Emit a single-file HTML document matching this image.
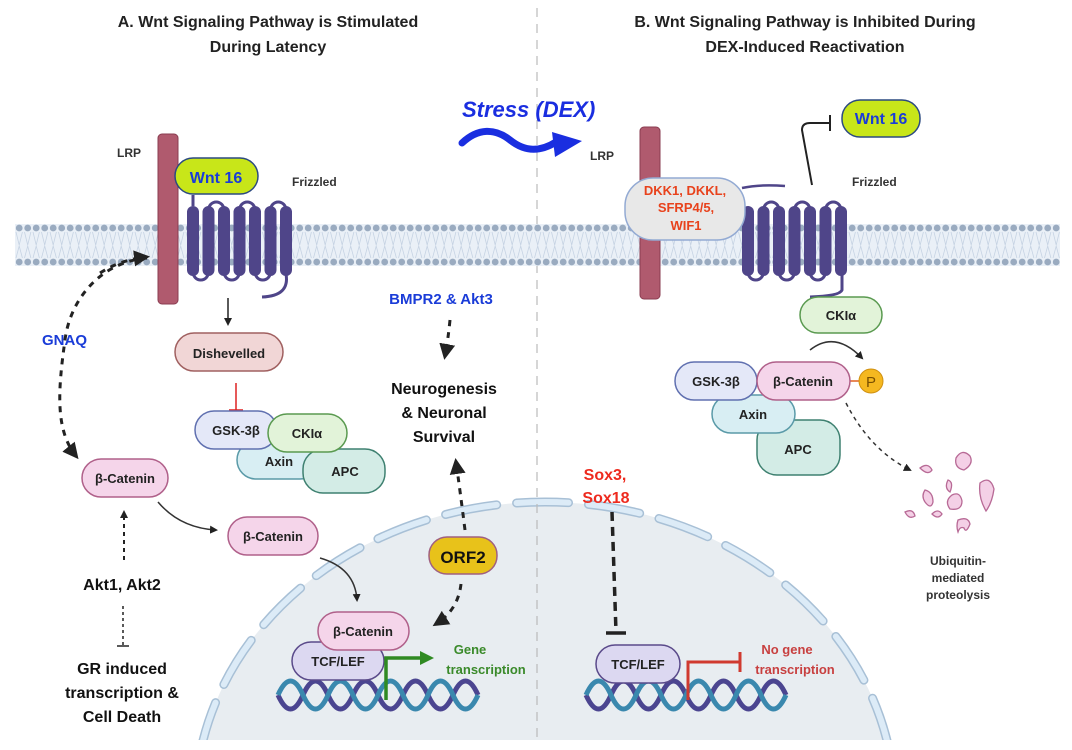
<!DOCTYPE html>
<html><head><meta charset="utf-8"><style>
html,body{margin:0;padding:0;background:#fff;width:1072px;height:750px;overflow:hidden;}
svg{display:block;font-family:"Liberation Sans",sans-serif;}
.b{font-weight:bold;}
</style></head><body>
<svg width="1072" height="750" viewBox="0 0 1072 750" xmlns="http://www.w3.org/2000/svg">
<defs>
<clipPath id="clip"><rect x="0" y="0" width="1072" height="740"/></clipPath>
<pattern id="mem" x="15" y="0" width="8.5" height="750" patternUnits="userSpaceOnUse">
<path d="M1 232 L4.2 245 L7.4 232 M1 258 L4.2 246 L7.4 258" stroke="#c6d3e3" stroke-width="0.8" fill="none"/>
<circle cx="4.2" cy="228" r="3.4" fill="#9aabc0"/>
<circle cx="4.2" cy="262" r="3.4" fill="#9aabc0"/>
</pattern>
<marker id="ah" markerWidth="8" markerHeight="8" refX="6" refY="4" orient="auto" markerUnits="userSpaceOnUse"><path d="M0,0 L8,4 L0,8 z" fill="#222"/></marker>
<marker id="ahb" markerWidth="16" markerHeight="16" refX="12" refY="8" orient="auto" markerUnits="userSpaceOnUse"><path d="M0,0 L16,8 L0,16 z" fill="#222"/></marker>
<marker id="ahg" markerWidth="14" markerHeight="14" refX="4" refY="7" orient="auto" markerUnits="userSpaceOnUse"><path d="M0,0 L14,7 L0,14 z" fill="#2f8a22"/></marker>
<g id="fz">
<g fill="#4f4589">
<rect x="0" y="0" width="12" height="70" rx="6"/><rect x="15.5" y="0" width="12" height="70" rx="6"/><rect x="31" y="0" width="12" height="70" rx="6"/><rect x="46.5" y="0" width="12" height="70" rx="6"/><rect x="62" y="0" width="12" height="70" rx="6"/><rect x="77.5" y="0" width="12" height="70" rx="6"/><rect x="93" y="0" width="12" height="70" rx="6"/>
</g>
<g fill="none" stroke="#4f4589" stroke-width="3">
<path d="M21.5 4 a7.75 8 0 0 1 15.5 0 M52.5 4 a7.75 8 0 0 1 15.5 0 M83.5 4 a7.75 8 0 0 1 15.5 0"/>
<path d="M6 66 a7.75 8 0 0 0 15.5 0 M37 66 a7.75 8 0 0 0 15.5 0 M68 66 a7.75 8 0 0 0 15.5 0"/>
</g>
</g>
<g id="dna" fill="none" stroke-width="5">
<path d="M0 15 q12.5 28 25 0 t25 0 t25 0 t25 0 t25 0 t25 0 t25 0 t25 0" stroke="#4b4590"/>
<path d="M0 15 q12.5 -28 25 0 t25 0 t25 0 t25 0 t25 0 t25 0 t25 0 t25 0" stroke="#3a88ae"/>
</g>
</defs>

<g clip-path="url(#clip)">
<ellipse cx="545" cy="805" rx="350" ry="303" fill="#e8edf1"/>
<ellipse cx="545" cy="805" rx="350" ry="303" fill="none" stroke="#a8c0d6" stroke-width="9" stroke-dasharray="52 20" stroke-linecap="round"/>
<ellipse cx="545" cy="805" rx="350" ry="303" fill="none" stroke="#dcebf7" stroke-width="6" stroke-dasharray="52 20" stroke-linecap="round"/>
</g>

<line x1="537" y1="8" x2="537" y2="740" stroke="#bbb" stroke-width="1.2" stroke-dasharray="9 7"/>

<g class="b" font-size="16" fill="#222" text-anchor="middle">
<text x="268" y="27">A.  Wnt Signaling Pathway is Stimulated</text>
<text x="268" y="52">During Latency</text>
<text x="805" y="27">B.  Wnt Signaling Pathway is Inhibited During</text>
<text x="805" y="52">DEX-Induced Reactivation</text>
</g>

<rect x="15" y="224" width="1045" height="42" fill="#eaf0f7"/>
<rect x="15" y="222" width="1045" height="46" fill="url(#mem)"/>

<!-- LEFT -->
<rect x="158" y="134" width="20" height="170" rx="4" fill="#b05a6e" stroke="#8a3c50" stroke-width="1"/>
<text x="117" y="157" class="b" font-size="12" fill="#333">LRP</text>
<use href="#fz" x="187" y="206"/>
<path d="M193 206 L193 195" stroke="#4f4589" stroke-width="3" fill="none"/>
<path d="M286 274 Q290 296 262 297" stroke="#4f4589" stroke-width="3" fill="none"/>
<rect x="175" y="158" width="83" height="36" rx="18" fill="#c8e619" stroke="#2c4a80" stroke-width="1.5"/>
<text x="216" y="183" text-anchor="middle" class="b" font-size="16" fill="#1a3cd8">Wnt 16</text>
<text x="292" y="186" class="b" font-size="12" fill="#333">Frizzled</text>

<line x1="228" y1="298" x2="228" y2="324" stroke="#222" stroke-width="1.5" marker-end="url(#ah)"/>
<rect x="175" y="333" width="108" height="38" rx="19" fill="#f1d6d6" stroke="#a06060" stroke-width="1.5"/>
<text x="229" y="358" text-anchor="middle" class="b" font-size="13" fill="#222">Dishevelled</text>
<path d="M236 383 V410 M229 410 H243" stroke="#d22" stroke-width="1.5" fill="none"/>

<rect x="237" y="441" width="82" height="38" rx="19" fill="#d8eef3" stroke="#5a9aa8" stroke-width="1.5"/>
<rect x="303" y="449" width="82" height="44" rx="20" fill="#d3ece6" stroke="#3e8070" stroke-width="1.5"/>
<rect x="195" y="411" width="82" height="38" rx="19" fill="#e4e8f8" stroke="#6070b0" stroke-width="1.5"/>
<rect x="268" y="414" width="79" height="38" rx="19" fill="#e2f3d9" stroke="#5a9a50" stroke-width="1.5"/>
<g class="b" font-size="13" fill="#222" text-anchor="middle">
<text x="236" y="435">GSK-3β</text>
<text x="307" y="438">CKIα</text>
<text x="279" y="466">Axin</text>
<text x="345" y="476">APC</text>
</g>

<text x="42" y="345" class="b" font-size="15" fill="#1a3cd8">GNAQ</text>
<path d="M147 258 C100 262 70 300 65 340 C58 390 55 430 76 456" stroke="#222" stroke-width="3" fill="none" stroke-dasharray="6 6" marker-end="url(#ahb)"/>
<path d="M100 273 Q120 260 146 257" stroke="#222" stroke-width="3" fill="none" stroke-dasharray="6 6" marker-end="url(#ahb)"/>

<rect x="82" y="459" width="86" height="38" rx="19" fill="#f5d5ea" stroke="#b0608a" stroke-width="1.5"/>
<text x="125" y="483" text-anchor="middle" class="b" font-size="13" fill="#222">β-Catenin</text>
<path d="M158 502 Q180 528 216 530" stroke="#333" stroke-width="1.5" fill="none" marker-end="url(#ah)"/>
<rect x="228" y="517" width="90" height="38" rx="19" fill="#f5d5ea" stroke="#b0608a" stroke-width="1.5"/>
<text x="273" y="541" text-anchor="middle" class="b" font-size="13" fill="#222">β-Catenin</text>

<path d="M124 560 V512" stroke="#222" stroke-width="2" stroke-dasharray="4 4" fill="none" marker-end="url(#ah)"/>
<text x="122" y="590" text-anchor="middle" class="b" font-size="16" fill="#111">Akt1, Akt2</text>
<path d="M123 606 V645" stroke="#222" stroke-width="1.5" stroke-dasharray="3 3" fill="none"/>
<path d="M117 646 H129" stroke="#222" stroke-width="1.5"/>
<g class="b" font-size="16" fill="#111" text-anchor="middle">
<text x="122" y="674">GR induced</text>
<text x="122" y="698">transcription &amp;</text>
<text x="122" y="722">Cell Death</text>
</g>

<text x="441" y="304" text-anchor="middle" class="b" font-size="15" fill="#1a3cd8">BMPR2 &amp; Akt3</text>
<path d="M450 320 Q448 340 445 356" stroke="#222" stroke-width="3" stroke-dasharray="6 6" fill="none" marker-end="url(#ahb)"/>
<g class="b" font-size="16" fill="#111" text-anchor="middle">
<text x="444" y="394">Neurogenesis</text>
<text x="444" y="418">&amp; Neuronal</text>
<text x="444" y="442">Survival</text>
</g>
<path d="M465 530 Q460 490 456 462" stroke="#222" stroke-width="3" stroke-dasharray="6 6" fill="none" marker-end="url(#ahb)"/>
<rect x="429" y="537" width="68" height="37" rx="18" fill="#e8c21a" stroke="#a06080" stroke-width="1.5"/>
<text x="463" y="563" text-anchor="middle" class="b" font-size="17" fill="#111">ORF2</text>
<path d="M461 584 Q458 610 436 624" stroke="#222" stroke-width="3" stroke-dasharray="6 6" fill="none" marker-end="url(#ahb)"/>

<path d="M320 558 Q355 568 357 600" stroke="#333" stroke-width="1.5" fill="none" marker-end="url(#ah)"/>
<use href="#dna" x="278" y="680"/>
<rect x="292" y="642" width="92" height="38" rx="19" fill="#dcd8f1" stroke="#5a4a8a" stroke-width="1.5"/>
<rect x="318" y="612" width="91" height="38" rx="19" fill="#f5d5ea" stroke="#b0608a" stroke-width="1.5"/>
<text x="363" y="636" text-anchor="middle" class="b" font-size="13" fill="#222">β-Catenin</text>
<text x="338" y="666" text-anchor="middle" class="b" font-size="13" fill="#222">TCF/LEF</text>
<path d="M386 700 V658 H424" stroke="#2f8a22" stroke-width="3.5" fill="none" marker-end="url(#ahg)"/>
<g class="b" font-size="13" fill="#3a8a2a" text-anchor="middle">
<text x="470" y="654">Gene</text>
<text x="486" y="674">transcription</text>
</g>

<!-- RIGHT -->
<text x="462" y="117" font-size="22" font-weight="bold" font-style="italic" fill="#1a2ee0">Stress (DEX)</text>
<path d="M462 143 C478 128 495 128 510 140 C525 152 540 152 556 142" stroke="#1a2ee0" stroke-width="7" fill="none" stroke-linecap="round"/>
<path d="M552 132 L582 141 L555 157 z" fill="#1a2ee0"/>
<text x="590" y="160" class="b" font-size="12" fill="#333">LRP</text>
<rect x="640" y="127" width="20" height="172" rx="4" fill="#b05a6e" stroke="#8a3c50" stroke-width="1"/>
<use href="#fz" x="742" y="206"/>
<path d="M742 188 Q760 184 785 186" stroke="#4f4589" stroke-width="2.5" fill="none"/>
<path d="M842 274 L842 290 Q840 296 810 297" stroke="#4f4589" stroke-width="3" fill="none"/>
<rect x="625" y="178" width="120" height="62" rx="28" fill="#e8e8e8" stroke="#93aad3" stroke-width="1.5"/>
<g class="b" font-size="13" fill="#e8421c" text-anchor="middle">
<text x="685" y="195">DKK1, DKKL,</text>
<text x="686" y="212">SFRP4/5,</text>
<text x="686" y="230">WIF1</text>
</g>
<path d="M812 185 L802 130 Q802 123 810 123 H830 M830 115 V131" stroke="#222" stroke-width="2" fill="none"/>
<rect x="842" y="100" width="78" height="37" rx="18" fill="#c8e619" stroke="#2c4a80" stroke-width="1.5"/>
<text x="881" y="124" text-anchor="middle" class="b" font-size="16" fill="#1a3cd8">Wnt 16</text>
<text x="852" y="186" class="b" font-size="12" fill="#333">Frizzled</text>

<rect x="800" y="297" width="82" height="36" rx="18" fill="#e2f3d9" stroke="#5a9a50" stroke-width="1.5"/>
<text x="841" y="320" text-anchor="middle" class="b" font-size="13" fill="#222">CKIα</text>
<path d="M810 350 Q835 330 862 358" stroke="#333" stroke-width="1.5" fill="none" marker-end="url(#ah)"/>

<rect x="757" y="420" width="83" height="55" rx="20" fill="#d3ece6" stroke="#3e8070" stroke-width="1.5"/>
<rect x="712" y="395" width="83" height="38" rx="19" fill="#d8eef3" stroke="#5a9aa8" stroke-width="1.5"/>
<rect x="675" y="362" width="82" height="38" rx="19" fill="#e4e8f8" stroke="#6070b0" stroke-width="1.5"/>
<line x1="848" y1="381" x2="860" y2="381" stroke="#e06020" stroke-width="1.5"/>
<rect x="757" y="362" width="93" height="38" rx="19" fill="#f5d5ea" stroke="#b0608a" stroke-width="1.5"/>
<circle cx="871" cy="381" r="12" fill="#f5b820" stroke="#d09010" stroke-width="1"/>
<text x="871" y="387" text-anchor="middle" font-size="15" fill="#7a5000">P</text>
<g class="b" font-size="13" fill="#222" text-anchor="middle">
<text x="716" y="386">GSK-3β</text>
<text x="803" y="386">β-Catenin</text>
<text x="753" y="419">Axin</text>
<text x="798" y="454">APC</text>
</g>
<path d="M846 403 Q870 450 910 470" stroke="#333" stroke-width="1.5" stroke-dasharray="4 4" fill="none" marker-end="url(#ah)"/>
<g fill="#f4d0e6" stroke="#b86a96" stroke-width="1.3">
<path d="M956 458 q6 -10 14 -2 q4 8 -6 14 q-10 -2 -8 -12z"/>
<path d="M920 468 q8 -6 12 2 q-4 6 -12 -2z"/>
<path d="M980 483 q10 -8 14 6 q-2 14 -8 22 q-8 -14 -6 -28z"/>
<path d="M948 480 q6 2 2 12 q-6 -4 -2 -12z"/>
<path d="M925 490 q8 2 8 12 q-2 8 -8 0 q-4 -6 0 -12z"/>
<path d="M952 495 q8 -4 10 6 q0 10 -12 8 q-6 -8 2 -14z"/>
<path d="M905 512 q8 -4 10 4 q-6 4 -10 -4z"/>
<path d="M932 514 q6 -6 10 0 q-4 6 -10 0z"/>
<path d="M958 520 q10 -4 12 4 q-4 10 -6 4 q-4 -2 -6 4 q-2 -6 0 -12z"/>
</g>
<g class="b" font-size="12" fill="#333" text-anchor="middle">
<text x="958" y="565">Ubiquitin-</text>
<text x="958" y="582">mediated</text>
<text x="958" y="599">proteolysis</text>
</g>

<g class="b" font-size="16" fill="#ee2a1e" text-anchor="middle">
<text x="605" y="480">Sox3,</text>
<text x="606" y="503">Sox18</text>
</g>
<path d="M612 512 L616 632" stroke="#222" stroke-width="3.5" stroke-dasharray="9 6" fill="none"/>
<path d="M606 633 H626" stroke="#222" stroke-width="3.5"/>
<use href="#dna" x="586" y="680"/>
<rect x="596" y="645" width="84" height="38" rx="19" fill="#dcd8f1" stroke="#5a4a8a" stroke-width="1.5"/>
<text x="638" y="669" text-anchor="middle" class="b" font-size="13" fill="#222">TCF/LEF</text>
<path d="M688 700 V662 H740 M740 652 V672" stroke="#d03a30" stroke-width="3" fill="none"/>
<g class="b" font-size="13" fill="#c84040" text-anchor="middle">
<text x="787" y="654">No gene</text>
<text x="795" y="674">transcription</text>
</g>
</svg>
</body></html>
